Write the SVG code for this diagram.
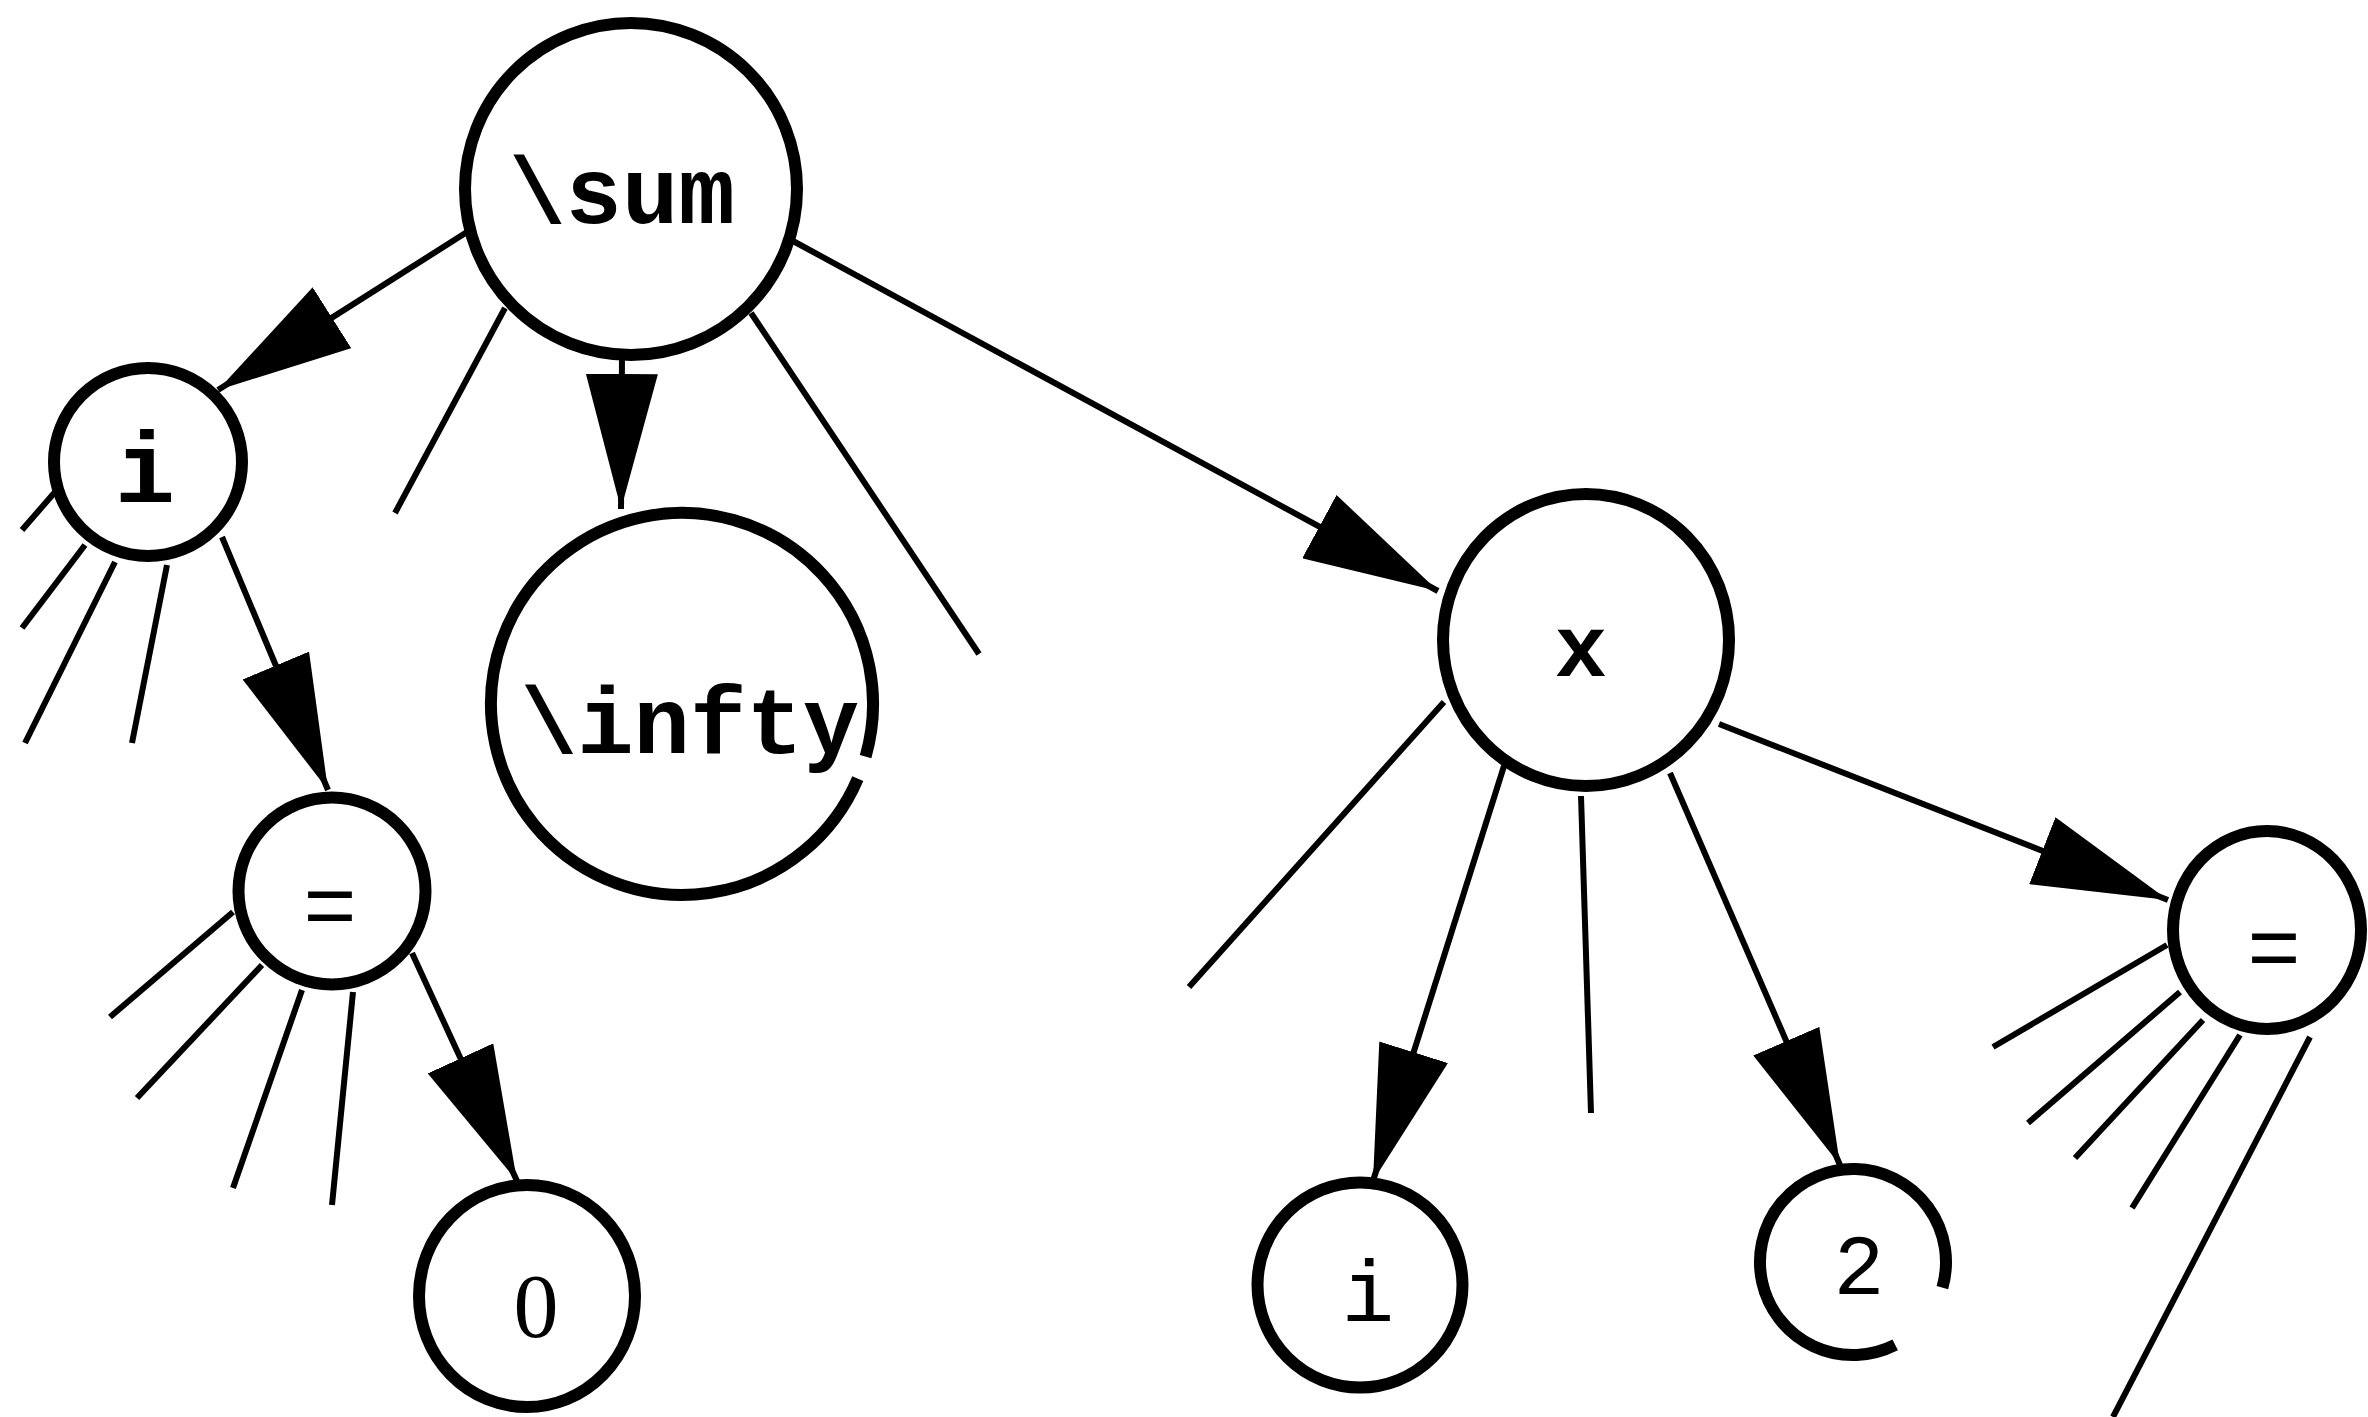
<svg xmlns="http://www.w3.org/2000/svg" width="2368" height="1417" viewBox="0 0 2368 1417">
  <defs>
    <marker id="ah" viewBox="0 0 135 72" refX="135" refY="36" markerWidth="135" markerHeight="72" orient="auto" markerUnits="userSpaceOnUse">
      <path d="M0,0 L135,36 L0,72 z" fill="#000"/>
    </marker>
    <style>
      .ring { fill: #fff; stroke: #000; stroke-width: 12; }
      .open { fill: none; stroke: #000; stroke-width: 12; }
      .edge { stroke: #000; stroke-width: 6; fill: none; stroke-linecap: butt; }
      .arrow { marker-end: url(#ah); }
      .lbl { font-family: "Liberation Mono", "Courier New", monospace; fill: #000; text-anchor: middle; }
      .digit { font-family: "Liberation Serif", "Times New Roman", serif; fill: #000; text-anchor: middle; }
      .b { font-weight: bold; }
    </style>
  </defs>
  <rect x="0" y="0" width="2368" height="1417" fill="#fff"/>

  <!-- connectors: arrows to children, plain stubs for elided subtrees -->
  <g id="connectors">
    <line class="edge arrow" x1="467" y1="232" x2="218" y2="390"/>
    <line class="edge arrow" x1="622" y1="357" x2="621" y2="509"/>
    <line class="edge arrow" x1="793" y1="241" x2="1438" y2="591"/>
    <line class="edge" x1="505" y1="308" x2="395" y2="513"/>
    <line class="edge" x1="751" y1="313" x2="979" y2="654"/>

    <line class="edge arrow" x1="222" y1="537" x2="328" y2="790"/>
    <line class="edge" x1="55" y1="492" x2="22" y2="530"/>
    <line class="edge" x1="85" y1="545" x2="22" y2="628"/>
    <line class="edge" x1="115" y1="562" x2="25" y2="743"/>
    <line class="edge" x1="167" y1="565" x2="132" y2="743"/>

    <line class="edge arrow" x1="412" y1="953" x2="517" y2="1181"/>
    <line class="edge" x1="233" y1="912" x2="110" y2="1017"/>
    <line class="edge" x1="262" y1="965" x2="137" y2="1098"/>
    <line class="edge" x1="302" y1="990" x2="233" y2="1188"/>
    <line class="edge" x1="353" y1="992" x2="332" y2="1205"/>

    <line class="edge arrow" x1="1504" y1="766" x2="1373" y2="1181"/>
    <line class="edge arrow" x1="1670" y1="773" x2="1840" y2="1165"/>
    <line class="edge arrow" x1="1719" y1="724" x2="2168" y2="900"/>
    <line class="edge" x1="1444" y1="702" x2="1189" y2="987"/>
    <line class="edge" x1="1581" y1="796" x2="1591" y2="1113"/>

    <line class="edge" x1="2167" y1="945" x2="1993" y2="1047"/>
    <line class="edge" x1="2180" y1="992" x2="2028" y2="1123"/>
    <line class="edge" x1="2203" y1="1020" x2="2075" y2="1158"/>
    <line class="edge" x1="2240" y1="1035" x2="2132" y2="1208"/>
    <line class="edge" x1="2310" y1="1037" x2="2113" y2="1417"/>
  </g>

  <g id="n-sum">
    <circle class="ring" cx="631" cy="189" r="166"/>
    <text class="lbl b" x="622" y="223" font-size="94">\sum</text>
  </g>

  <g id="n-i-top">
    <circle class="ring" cx="148" cy="462" r="94"/>
    <text class="lbl b" x="145" y="502" font-size="100">i</text>
  </g>

  <g id="n-infty">
    <path class="open" d="M857.8,778.6 A191,191 0 1 1 865.6,756.6"/>
    <text class="lbl b" x="690" y="753" font-size="94">\infty</text>
  </g>

  <g id="n-eq-left">
    <circle class="ring" cx="332" cy="891" r="93.5"/>
    <text class="lbl" x="330" y="936" font-size="90">=</text>
  </g>

  <g id="n-zero">
    <ellipse class="ring" cx="527" cy="1296" rx="108" ry="111"/>
    <text class="digit" x="536" y="1337" font-size="90">0</text>
  </g>

  <g id="n-x">
    <ellipse class="ring" cx="1586" cy="640" rx="143" ry="146"/>
    <text class="lbl b" x="1581" y="676" font-size="88">x</text>
  </g>

  <g id="n-i-bottom">
    <circle class="ring" cx="1360" cy="1285" r="102.5"/>
    <text class="lbl" x="1368" y="1321" font-size="88">i</text>
  </g>

  <g id="n-two">
    <path class="open" d="M1895.2,1344.9 A93,93 0 1 1 1942.4,1287.6"/>
    <text class="lbl" x="1859" y="1294" font-size="85">2</text>
  </g>

  <g id="n-eq-right">
    <ellipse class="ring" cx="2267" cy="930" rx="94" ry="99"/>
    <text class="lbl" x="2274" y="978" font-size="90">=</text>
  </g>
</svg>
